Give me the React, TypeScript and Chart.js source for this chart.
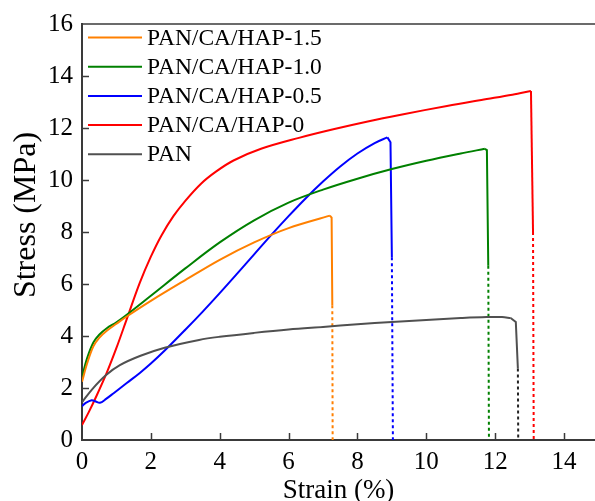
import React, { useEffect, useRef } from "react";
import { Chart, registerables } from "chart.js";

Chart.register(...registerables);

// ---------- DATA ----------
const seriesLabels = ["PAN/CA/HAP-1.5", "PAN/CA/HAP-1.0", "PAN/CA/HAP-0.5", "PAN/CA/HAP-0", "PAN"];
const seriesColors = ["#FF8000", "#008000", "#0000FF", "#FF0000", "#505050"];
const dashColors = ["#FF8000", "#008000", "#0000FF", "#FF0000", "#222222"];

// PAN/CA/HAP-1.5
const strainHAP15 = [0, 0.15, 0.33, 0.5, 0.72, 1.0, 1.3, 2.0, 3.0, 4.0, 5.0, 6.0, 7.2];
const stressHAP15 = [2.24, 2.95, 3.6, 3.93, 4.2, 4.47, 4.75, 5.35, 6.15, 6.93, 7.6, 8.15, 8.63];
const breakStrainHAP15 = [7.25, 7.27, 7.28];
const breakStressHAP15 = [8.55, 5.18, 0];

// PAN/CA/HAP-1.0
const strainHAP10 = [0, 0.15, 0.33, 0.5, 0.72, 1.0, 1.3, 2.0, 3.0, 4.0, 5.0, 6.0, 7.0, 8.0, 9.0, 10.0, 11.0, 11.7];
const stressHAP10 = [2.43, 3.15, 3.75, 4.05, 4.3, 4.53, 4.82, 5.55, 6.6, 7.6, 8.45, 9.13, 9.63, 10.05, 10.42, 10.74, 11.02, 11.2];
const breakStrainHAP10 = [11.76, 11.8, 11.82];
const breakStressHAP10 = [11.15, 6.7, 0];

// PAN/CA/HAP-0.5
const strainHAP05 = [0, 0.1, 0.28, 0.4, 0.52, 0.7, 0.91, 1.3, 1.68, 2.0, 2.41, 3.0, 3.5, 4.0, 4.5, 5.0, 5.5, 6.0, 6.5, 7.0, 7.5, 8.0, 8.5, 8.87];
const stressHAP05 = [1.3, 1.42, 1.53, 1.48, 1.43, 1.58, 1.79, 2.19, 2.58, 2.94, 3.45, 4.24, 4.93, 5.65, 6.39, 7.14, 7.89, 8.61, 9.3, 9.94, 10.52, 11.02, 11.42, 11.64];
const breakStrainHAP05 = [8.96, 9.0, 9.03];
const breakStressHAP05 = [11.45, 7.03, 0];

// PAN/CA/HAP-0
const strainHAP0 = [0, 0.2, 0.43, 0.72, 1.0, 1.3, 1.68, 2.0, 2.3, 2.65, 3.0, 3.45, 3.9, 4.4, 5.2, 6.3, 7.3, 8.3, 9.3, 10.6, 11.6, 12.5, 13.04];
const stressHAP0 = [0.58, 1.08, 1.72, 2.59, 3.54, 4.65, 6.05, 7.05, 7.85, 8.6, 9.2, 9.85, 10.33, 10.75, 11.2, 11.62, 11.95, 12.25, 12.52, 12.85, 13.08, 13.28, 13.42];
const breakStrainHAP0 = [13.1, 13.12];
const breakStressHAP0 = [8.0, 0];

// PAN
const strainPAN = [0, 0.3, 0.7, 1.1, 1.7, 2.4, 3.4, 4.0, 5.0, 6.0, 7.0, 8.0, 9.0, 10.0, 11.0, 11.75, 12.2, 12.45];
const stressPAN = [1.45, 1.96, 2.5, 2.88, 3.24, 3.55, 3.85, 3.97, 4.12, 4.25, 4.35, 4.45, 4.54, 4.62, 4.69, 4.73, 4.73, 4.69];
const breakStrainPAN = [12.6, 12.66, 12.67];
const breakStressPAN = [4.54, 2.75, 0];

const xTickValues = [0, 2, 4, 6, 8, 10, 12, 14];
const yTickValues = [0, 2, 4, 6, 8, 10, 12, 14, 16];
const xTitle = "Strain (%)";
const yTitle = "Stress (MPa)";

const FONT = "'Liberation Serif', 'Times New Roman', serif";
const AXIS_COLOR = "#3a3a3a";

Chart.defaults.font.family = FONT;

const zip = (xs: number[], ys: number[]) => xs.map((x, i) => ({ x, y: ys[i] }));

function buildDatasets() {
  const all = [
    [strainHAP15, stressHAP15, breakStrainHAP15, breakStressHAP15],
    [strainHAP10, stressHAP10, breakStrainHAP10, breakStressHAP10],
    [strainHAP05, stressHAP05, breakStrainHAP05, breakStressHAP05],
    [strainHAP0, stressHAP0, breakStrainHAP0, breakStressHAP0],
    [strainPAN, stressPAN, breakStrainPAN, breakStressPAN],
  ];
  const ds: any[] = [];
  const order = [4, 0, 1, 2, 3];
  order.forEach((i) => {
    const [sx, sy, bx, by] = all[i];
    const color = seriesColors[i];
    const n = bx.length;
    const solid = [{ x: sx[sx.length - 1], y: sy[sy.length - 1] }, ...zip(bx.slice(0, n - 1), by.slice(0, n - 1))];
    const dashed = zip(bx.slice(n - 2), by.slice(n - 2));
    ds.push({
      label: seriesLabels[i],
      data: zip(sx, sy),
      borderColor: color,
      borderWidth: 2,
      pointRadius: 0,
      showLine: true,
      fill: false,
      tension: 0.35,
    });
    ds.push({
      label: seriesLabels[i] + " drop",
      data: solid,
      borderColor: color,
      borderWidth: 2,
      pointRadius: 0,
      showLine: true,
      fill: false,
      tension: 0,
    });
    ds.push({
      label: seriesLabels[i] + " fracture",
      data: dashed,
      borderColor: dashColors[i],
      borderWidth: 2,
      borderDash: [3, 3],
      pointRadius: 0,
      showLine: true,
      fill: false,
      tension: 0,
    });
  });
  return ds;
}

const framePlugin = {
  id: "framePlugin",
  afterDraw(chart: any) {
    const { ctx, chartArea, scales } = chart;
    const { left, right, top, bottom } = chartArea;
    const x = scales.x;
    const y = scales.y;
    ctx.save();
    ctx.strokeStyle = AXIS_COLOR;
    ctx.lineWidth = 1.5;
    ctx.beginPath();
    ctx.moveTo(left, top);
    ctx.lineTo(right + 2, top);
    ctx.stroke();
    ctx.lineWidth = 1.5;
    xTickValues.forEach((v) => {
      if (v === 0) return;
      const px = Math.round(x.getPixelForValue(v)) + 0.5;
      ctx.beginPath();
      ctx.moveTo(px, bottom);
      ctx.lineTo(px, bottom - 7);
      ctx.stroke();
    });
    yTickValues.forEach((v) => {
      if (v === 0 || v === 16) return;
      const py = Math.round(y.getPixelForValue(v)) + 0.5;
      ctx.beginPath();
      ctx.moveTo(left, py);
      ctx.lineTo(left + 7, py);
      ctx.stroke();
    });
    ctx.fillStyle = "#000";
    ctx.font = `32px ${FONT}`;
    ctx.textAlign = "center";
    ctx.textBaseline = "alphabetic";
    ctx.translate(35, 215);
    ctx.rotate(-Math.PI / 2);
    ctx.fillText(yTitle, 0, 0);
    ctx.restore();

    ctx.save();
    ctx.font = `23.5px ${FONT}`;
    ctx.textAlign = "left";
    ctx.textBaseline = "middle";
    seriesLabels.forEach((lab, i) => {
      const ly = 37.5 + i * 29.2;
      ctx.strokeStyle = seriesColors[i];
      ctx.lineWidth = 2;
      ctx.beginPath();
      ctx.moveTo(88, ly);
      ctx.lineTo(142, ly);
      ctx.stroke();
      ctx.fillStyle = "#000";
      ctx.fillText(lab, 147, ly + 1);
    });
    ctx.restore();
  },
};

export default function App() {
  const ref = useRef<HTMLCanvasElement | null>(null);
  useEffect(() => {
    if (!ref.current) return;
    const chart = new Chart(ref.current, {
      type: "scatter",
      data: { datasets: buildDatasets() },
      options: {
        animation: false,
        responsive: false,
        devicePixelRatio: 1,
        layout: { padding: { left: 0, top: 23, right: 0, bottom: 0 } },
        plugins: { legend: { display: false }, tooltip: { enabled: false } },
        scales: {
          x: {
            type: "linear",
            min: 0,
            max: 14.9,
            afterFit: (s: any) => {
              s.height = 61;
            },
            ticks: {
              stepSize: 2,
              includeBounds: false,
              padding: 7,
              color: "#000",
              font: { family: FONT, size: 25 },
            },
            grid: { display: false, drawTicks: false },
            border: { display: true, color: AXIS_COLOR, width: 2 },
            title: {
              display: true,
              text: xTitle,
              color: "#000",
              font: { family: FONT, size: 27 },
              padding: { top: 0, bottom: -6 },
            },
          },
          y: {
            type: "linear",
            min: 0,
            max: 16,
            afterFit: (s: any) => {
              s.width = 82;
            },
            ticks: {
              stepSize: 2,
              padding: 9,
              color: "#000",
              font: { family: FONT, size: 25 },
            },
            grid: { display: false, drawTicks: false },
            border: { display: true, color: AXIS_COLOR, width: 2 },
          },
        },
      },
      plugins: [framePlugin],
    } as any);
    return () => chart.destroy();
  }, []);
  return (
    <div style={{ position: "absolute", left: 0, top: 0, width: 595, height: 501, background: "#fff" }}>
      <canvas ref={ref} width={595} height={501} />
    </div>
  );
}
